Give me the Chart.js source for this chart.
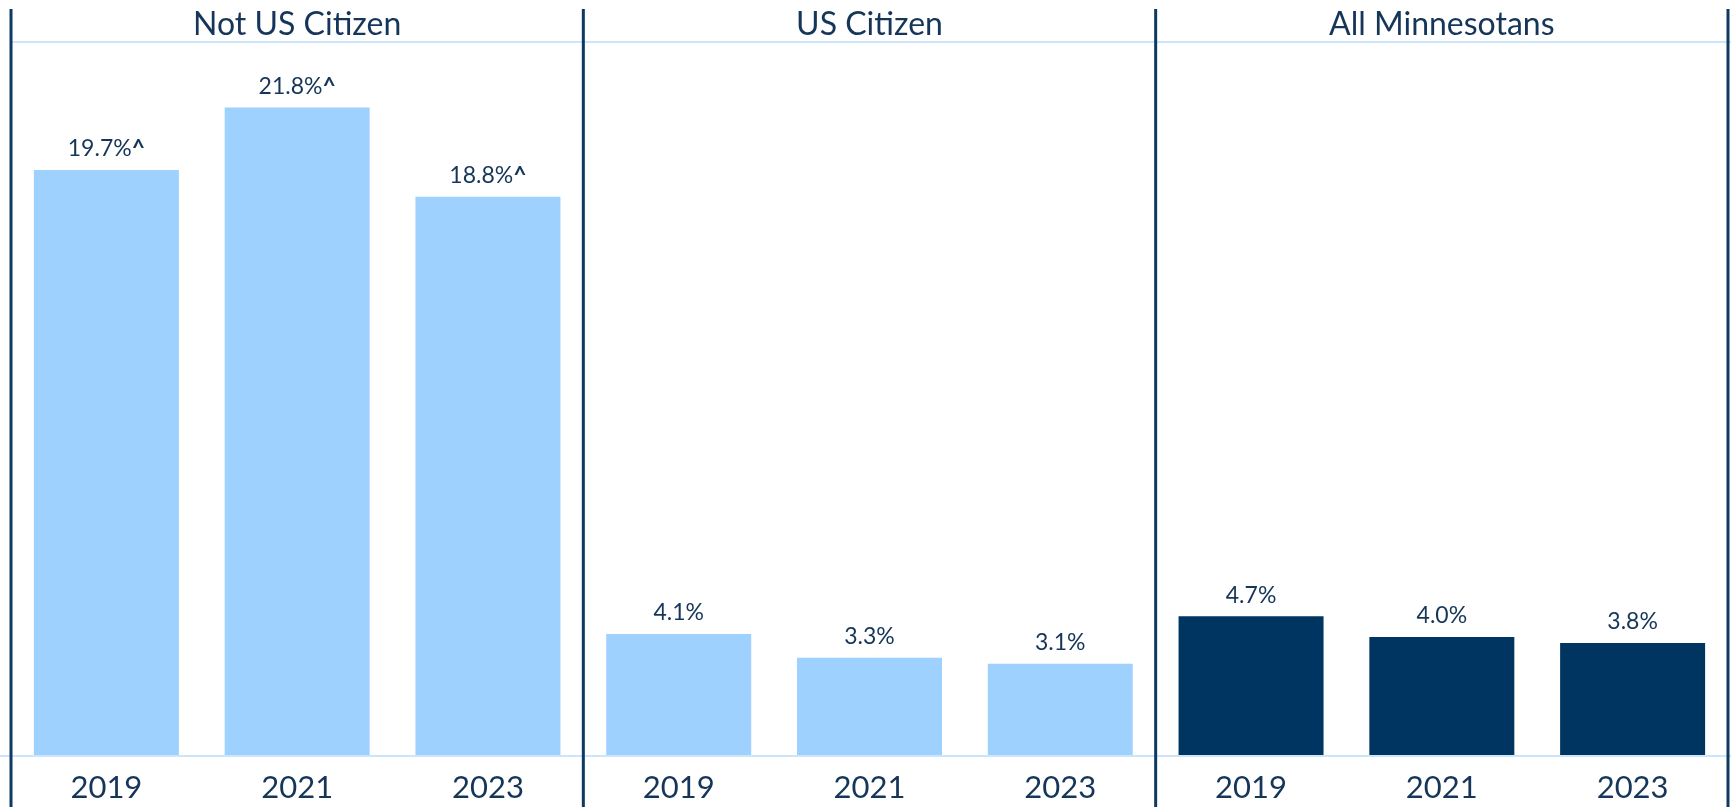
<!DOCTYPE html>
<html>
<head>
<meta charset="utf-8">
<script src="https://cdn.jsdelivr.net/npm/chart.js@4/dist/chart.umd.min.js"></script>
<style>
  html, body { margin: 0; padding: 0; background: #ffffff; }
  #wrap { width: 1731px; height: 807px; position: relative; }
</style>
</head>
<body>
<div id="wrap"><canvas id="c" width="1731" height="807"></canvas></div>
<script>
// ---- data ----
const groups = ['Not US Citizen', 'US Citizen', 'All Minnesotans'];
const years = ['2019', '2021', '2023'];
const notCitizen = [19.7, 21.8, 18.8];
const usCitizen = [4.1, 3.3, 3.1];
const allMinnesotans = [4.7, 4.0, 3.8];
const notCitizenMarks = ['^', '^', '^'];
const usCitizenMarks = ['', '', ''];
const allMinnesotansMarks = ['', '', ''];

// ---- build ----
const labels = [...years, ...years, ...years];
const values = [...notCitizen, ...usCitizen, ...allMinnesotans];
const marks = [...notCitizenMarks, ...usCitizenMarks, ...allMinnesotansMarks];
const LIGHT = '#9ed1fd';
const DARK = '#003562';
const TEXT = '#163659';
const LINE_DARK = '#0d3a63';
const LINE_LIGHT = '#cbe5fb';
const colors = values.map((v, i) => i >= 6 ? DARK : LIGHT);
const FONT = 'Lato, "Open Sans", sans-serif';

const decor = {
  id: 'decor',
  afterDatasetsDraw(chart) {
    const ctx = chart.ctx;
    const xs = chart.scales.x;
    const area = chart.chartArea;
    const slot = xs.getPixelForValue(1) - xs.getPixelForValue(0);
    ctx.save();
    // horizontal lines
    ctx.strokeStyle = LINE_LIGHT;
    ctx.lineWidth = 2;
    ctx.beginPath();
    ctx.moveTo(area.left, area.top); ctx.lineTo(chart.width, area.top);
    ctx.moveTo(0, area.bottom); ctx.lineTo(chart.width, area.bottom);
    ctx.stroke();
    // vertical dividers
    ctx.strokeStyle = LINE_DARK;
    ctx.lineWidth = 3;
    ctx.beginPath();
    for (let g = 0; g <= groups.length; g++) {
      const x = xs.getPixelForValue(g * 3) - slot / 2;
      ctx.moveTo(x, 9); ctx.lineTo(x, chart.height);
    }
    ctx.stroke();
    // group titles
    ctx.fillStyle = TEXT;
    ctx.font = '32px ' + FONT;
    ctx.textAlign = 'center';
    ctx.textBaseline = 'middle';
    groups.forEach((g, i) => {
      ctx.fillText(g, xs.getPixelForValue(i * 3 + 1), 25);
    });
    // value labels
    const meta = chart.getDatasetMeta(0);
    meta.data.forEach((bar, i) => {
      const txt = values[i].toFixed(1) + '%';
      const mk = marks[i];
      ctx.font = '23px ' + FONT;
      const w1 = ctx.measureText(txt).width;
      ctx.font = 'bold 23px ' + FONT;
      const w2 = mk ? ctx.measureText(mk).width : 0;
      const x0 = bar.x - (w1 + w2) / 2;
      const y = bar.y - 21;
      ctx.textAlign = 'left';
      ctx.font = '23px ' + FONT;
      ctx.fillText(txt, x0, y);
      if (mk) {
        ctx.font = 'bold 23px ' + FONT;
        ctx.fillText(mk, x0 + w1, y);
      }
    });
    ctx.restore();
  }
};

new Chart(document.getElementById('c'), {
  type: 'bar',
  data: {
    labels: labels,
    datasets: [{
      data: values,
      backgroundColor: colors,
      borderWidth: 0,
      barPercentage: 0.76,
      categoryPercentage: 1.0
    }]
  },
  options: {
    responsive: false,
    animation: false,
    events: [],
    layout: { padding: { left: 11, right: 3, top: 42, bottom: 0 } },
    plugins: { legend: { display: false }, tooltip: { enabled: false }, title: { display: false } },
    scales: {
      x: {
        grid: { display: false },
        border: { display: false },
        ticks: { color: TEXT, font: { family: FONT, size: 31 }, padding: 5, maxRotation: 0, autoSkip: false },
        afterFit(scale) { scale.height = 51; }
      },
      y: {
        display: false,
        min: 0,
        max: 24
      }
    }
  },
  plugins: [decor]
});
</script>
</body>
</html>
